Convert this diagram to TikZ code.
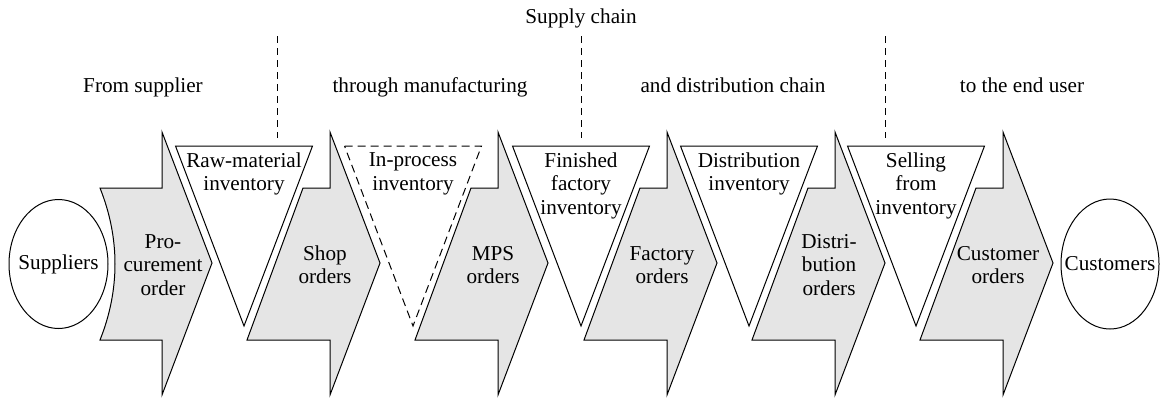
\documentclass[tikz,border=0pt]{standalone}
\usepackage{fontspec}
\setmainfont{Liberation Serif}
\usetikzlibrary{calc}

\begin{document}
\begin{tikzpicture}[x=0.5pt,y=-0.5pt,
        every node/.style={font=\fontsize{10.6}{11.65}\selectfont, align=center, inner sep=0pt},
        orderbox/.style={draw, fill=gray!20, line width=0.5pt},
        stockbox/.style={draw, fill=white, line width=0.5pt},
        divider/.style={line width=0.5pt, dash pattern=on 3.5pt off 2.5pt}]
        \useasboundingbox (0,0) rectangle (1166,397);

        % Section dividers
        \coordinate (D1) at (277,36);
        \coordinate (D2) at (581,36);
        \coordinate (D3) at (885,36);
        \draw[divider] (D1) -- ++(0,102);
        \draw[divider] (D2) -- ++(0,102);
        \draw[divider] (D3) -- ++(0,102);

        % Headings
        \node[anchor=base] (chain) at (581,23) {Supply chain};
        \node[anchor=base] (from) at (143,92) {From supplier};
        \node[anchor=base] (through) at (430,92) {through manufacturing};
        \node[anchor=base] (distr) at (733,92) {and distribution chain};
        \node[anchor=base] (enduser) at (1022,92) {to the end user};

        % Order chevrons (first one fits round the ellipse)
        \draw[orderbox] (100,340) .. controls (120,290) and (120,238) .. (100,188)
            -- (162,188) -- (162,132) -- (212,263) -- (162,395) -- (162,340) -- cycle;
        \draw[orderbox] (247,340) -- (303,188) -- (330,188) -- (330,132) -- (380,263) -- (330,395) -- (330,340) -- cycle;
        \draw[orderbox] (415,340) -- (471,188) -- (498,188) -- (498,132) -- (548,263) -- (498,395) -- (498,340) -- cycle;
        \draw[orderbox] (584,340) -- (640,188) -- (667,188) -- (667,132) -- (717,263) -- (667,395) -- (667,340) -- cycle;
        \draw[orderbox] (752,340) -- (808,188) -- (835,188) -- (835,132) -- (885,263) -- (835,395) -- (835,340) -- cycle;
        \draw[orderbox] (920,340) -- (976,188) -- (1003,188) -- (1003,132) -- (1053,263) -- (1003,395) -- (1003,340) -- cycle;

        % Inventory triangles
        \draw[stockbox] (175.5,146) -- (312.5,146) -- (244,326) -- cycle;
        \draw[stockbox, dash pattern=on 4pt off 2.5pt] (344.5,146) -- (481.5,146) -- (413,326) -- cycle;
        \draw[stockbox] (512.5,146) -- (649.5,146) -- (581,326) -- cycle;
        \draw[stockbox] (680.5,146) -- (817.5,146) -- (749,326) -- cycle;
        \draw[stockbox] (847.5,146) -- (984.5,146) -- (916,326) -- cycle;

        \node[anchor=north] (raw) at (244,152.5) {Raw-material\\inventory};
        \node[anchor=north] (wip) at (413,152.5) {In-process\\inventory};
        \node[anchor=north] (fin) at (581,152.5) {Finished\\factory\\inventory};
        \node[anchor=north] (dinv) at (749,152.5) {Distribution\\inventory};
        \node[anchor=north] (sell) at (916,152.5) {Selling\\from\\inventory};

        % Order labels
        \node (proc) at (163,265) {Pro-\\curement\\order};
        \node (shop) at (325,265) {Shop\\orders};
        \node (mps) at (493,265) {MPS\\orders};
        \node (fact) at (662,265) {Factory\\orders};
        \node (dord) at (829,265) {Distri-\\bution\\orders};
        \node (cust) at (998,265) {Customer\\orders};

        % End points
        \node (S) at (58.5,264) {Suppliers};
        \node (C) at (1110,264) {Customers};
        \draw[line width=0.5pt] (S.center) ellipse [x radius=24.75pt, y radius=32.25pt];
        \draw[line width=0.5pt] (C.center) ellipse [x radius=24.5pt, y radius=32.5pt];

    \end{tikzpicture}
\end{document}
